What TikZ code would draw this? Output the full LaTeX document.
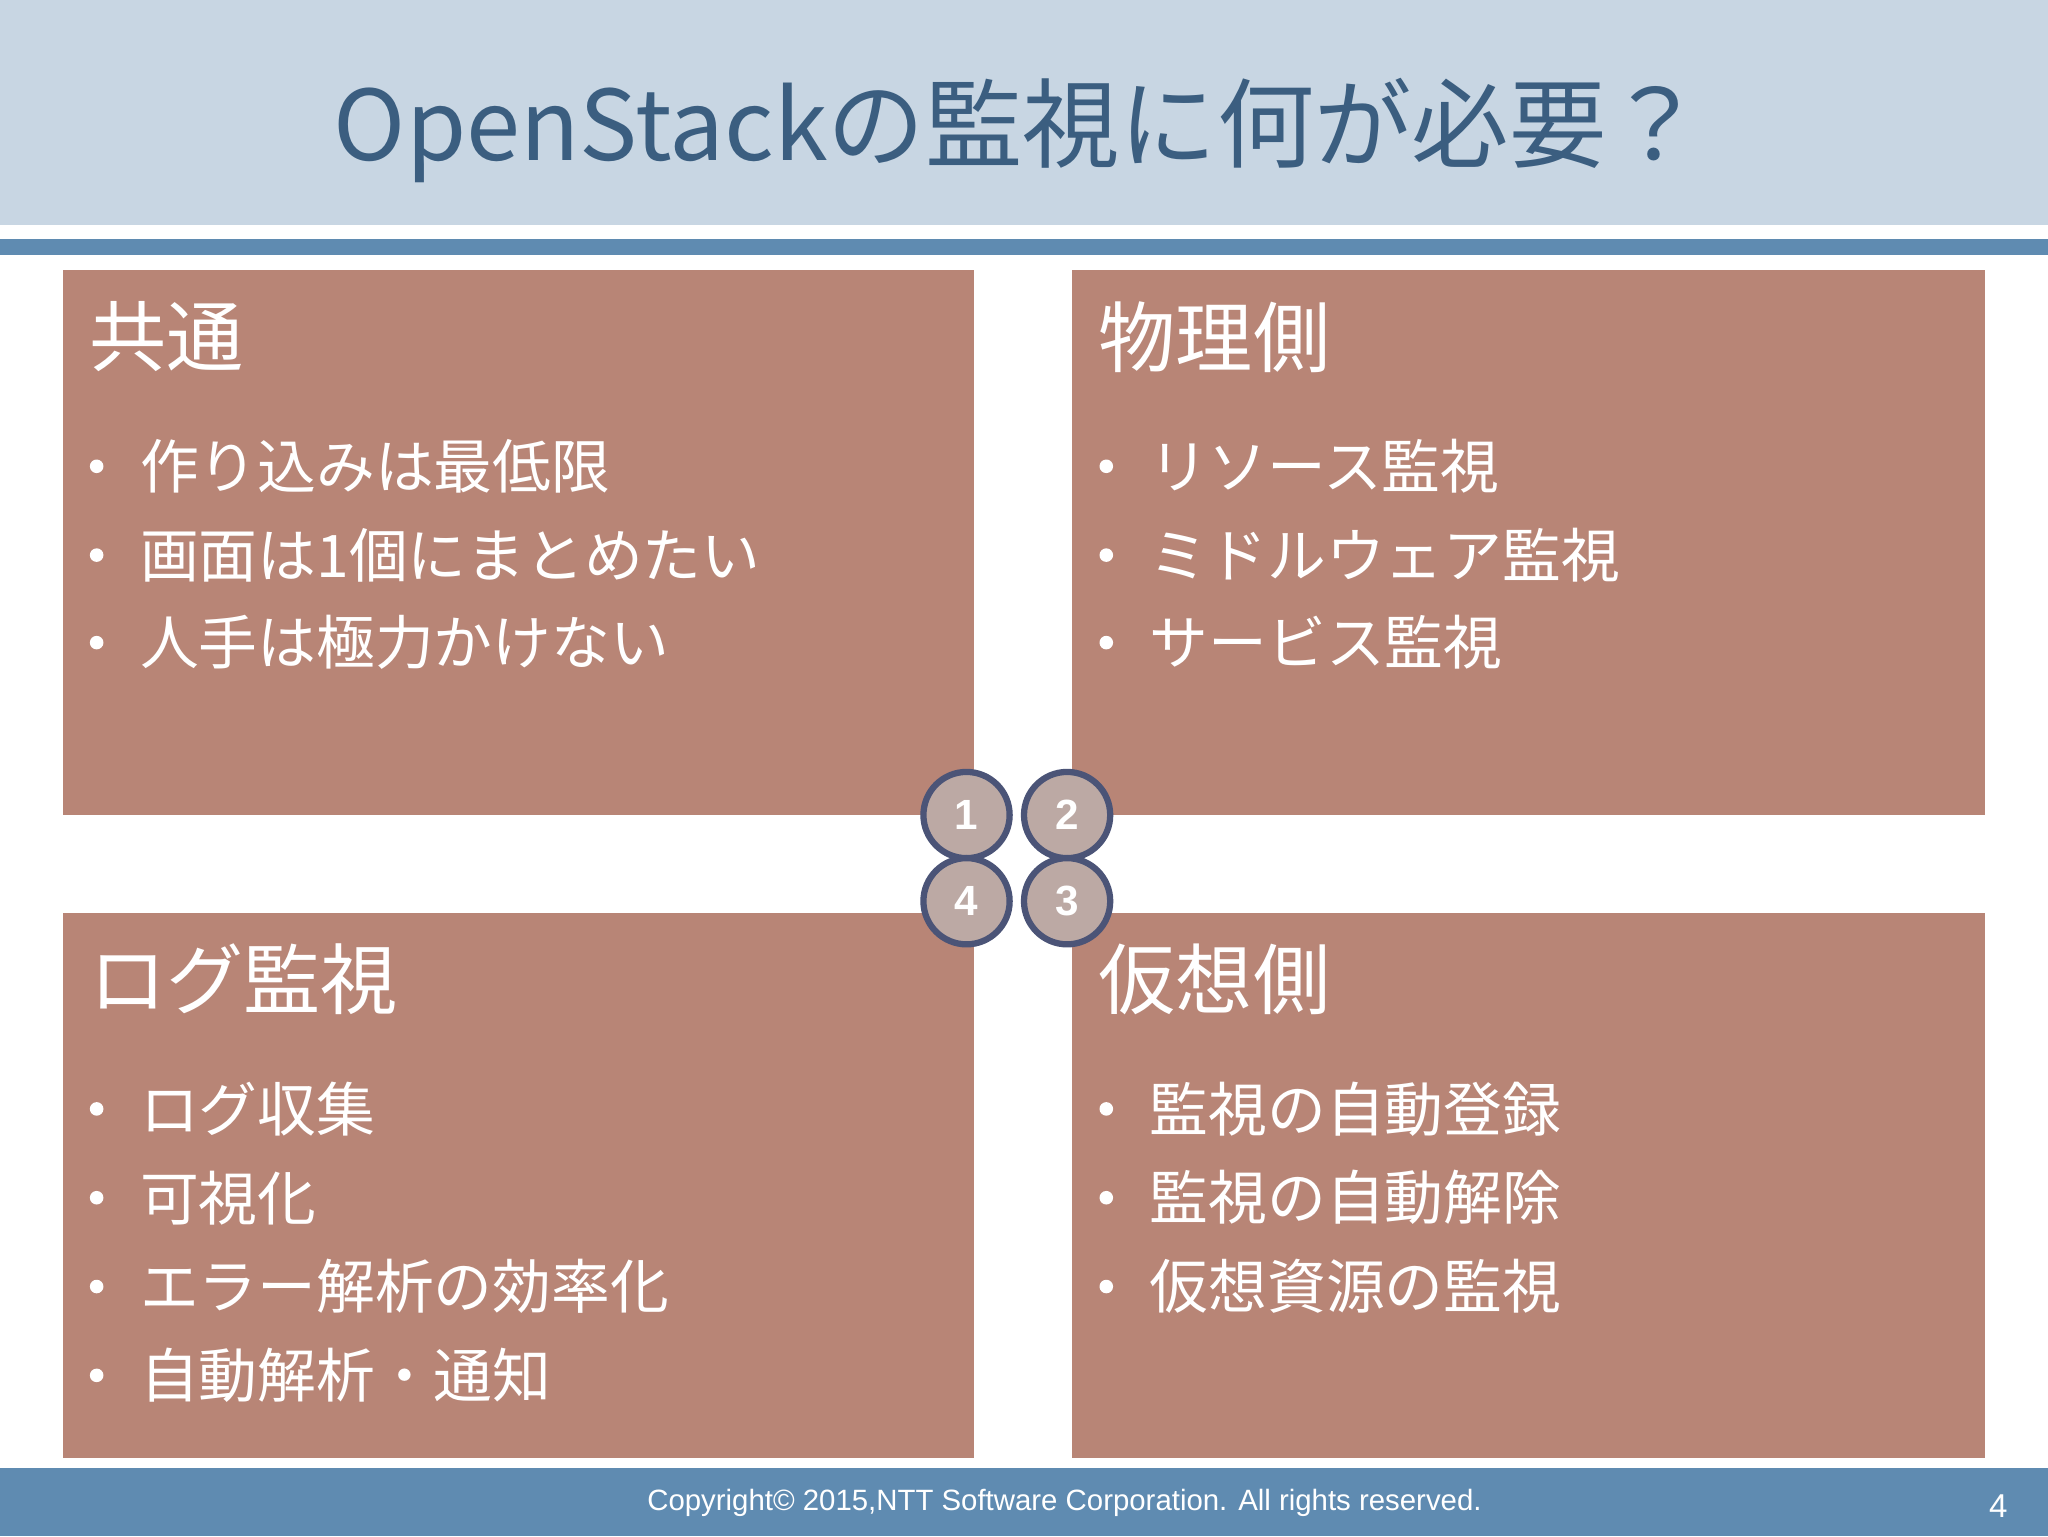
\documentclass[tikz,border=0pt]{standalone}
\usepackage{fontspec}
\setmainfont{Liberation Sans}
\newfontfamily\jp{Noto Sans CJK JP}
\definecolor{hdr}{HTML}{C8D6E3}
\definecolor{stripe}{HTML}{5F8BB1}
\definecolor{boxc}{HTML}{B88576}
\definecolor{ttl}{HTML}{3B5E80}
\definecolor{circf}{HTML}{BCA9A4}
\definecolor{circd}{HTML}{4B5477}
\tikzset{
 px/.style={x=0.25mm,y=-0.25mm},
 panel/.style={fill=boxc,draw=none},
 ptitle/.style={anchor=west,text=white,font=\jp\fontsize{42}{42}\selectfont,inner sep=0},
 bul/.style={anchor=west,text=white,font=\jp\fontsize{32}{32}\selectfont,inner sep=0},
 dot/.style={circle,fill=white,inner sep=0,minimum size=2.6mm},
 num/.style={circle,fill=circf,draw=circd,line width=1.2mm,minimum size=16.5mm,inner sep=0,text=white,font=\bfseries\fontsize{23}{23}\selectfont}
}
\begin{document}
\begin{tikzpicture}[px]
\useasboundingbox (0,0) rectangle (1568,1176);
\fill[white] (0,0) rectangle (1568,1176);
\fill[hdr] (0,0) rectangle (1568,172);
\fill[stripe] (0,183) rectangle (1568,195);
\node[text=ttl,font=\jp\fontsize{53}{53}\selectfont,inner sep=0] (title) at (780,100) {OpenStackの監視に何が必要？};
\fill[stripe] (0,1124) rectangle (1568,1176);
\node[text=white,font=\fontsize{16}{16}\selectfont,inner sep=0] (copy) at (815,1151) {Copyright© 2015,NTT Software Corporation. All rights reserved.};
\node[text=white,font=\fontsize{18}{18}\selectfont,inner sep=0] (pg) at (1530,1153) {4};
\fill[panel] (48,207) rectangle (746,624);
\fill[panel] (821,207) rectangle (1520,624);
\fill[panel] (48,699) rectangle (746,1116);
\fill[panel] (821,699) rectangle (1520,1116);
\node[ptitle] (t1) at (68,258) {共通};
\node[ptitle] (t2) at (841,258) {物理側};
\node[ptitle] (t4) at (68,750) {ログ監視};
\node[ptitle] (t3) at (841,750) {仮想側};
\foreach \x/\y/\t [count=\i] in {
 68/357/作り込みは最低限, 68/425/画面は1個にまとめたい, 68/492/人手は極力かけない,
 841/357/リソース監視, 841/425/ミドルウェア監視, 841/492/サービス監視,
 68/849/ログ収集, 68/917/可視化, 68/985/エラー解析の効率化, 68/1053/自動解析・通知,
 841/849/監視の自動登録, 841/917/監視の自動解除, 841/985/仮想資源の監視}{
 \node[dot] (d\i) at (\x+6,\y) {};
 \node[bul] (b\i) at (\x+39,\y) {\t};
}
\node[num] (n1) at (740,624) {1};
\node[num] (n2) at (817,624) {2};
\node[num] (n4) at (740,690) {4};
\node[num] (n3) at (817,690) {3};
\end{tikzpicture}
\end{document}
